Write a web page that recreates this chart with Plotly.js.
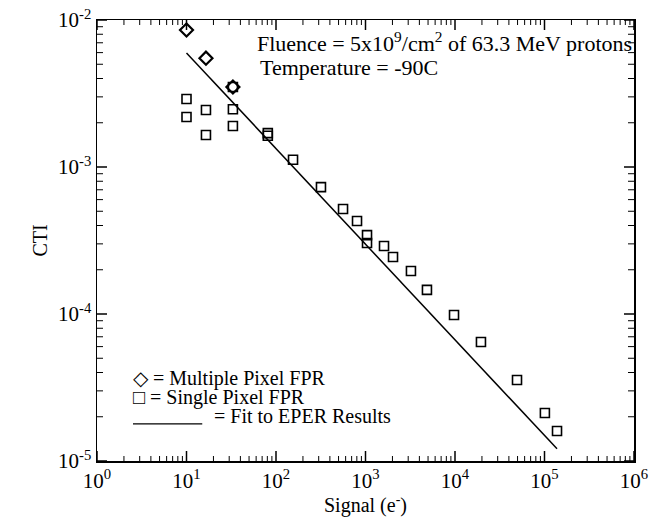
<!DOCTYPE html>
<html>
<head>
<meta charset="utf-8">
<script src="https://cdn.plot.ly/plotly-3.0.1.min.js"></script>
<style>html,body{margin:0;padding:0;background:#fff}#plot{width:656px;height:517px}</style>
</head>
<body>
<div id="plot"></div>
<script>
// Multiple pixel FPR (diamonds)
var multiX = [10, 16.5, 33];
var multiY = [8.55e-3, 5.5e-3, 3.5e-3];
// Single pixel FPR (squares)
var singleX = [10, 10, 16.5, 16.5, 33, 33, 33, 81, 81, 155, 318, 561, 804, 1040, 1040, 1610, 2030, 3220, 4860, 9750, 19500, 49300, 101000, 138000];
var singleY = [2.9e-3, 2.19e-3, 2.44e-3, 1.65e-3, 3.5e-3, 2.47e-3, 1.9e-3, 1.7e-3, 1.63e-3, 1.12e-3, 7.3e-4, 5.18e-4, 4.29e-4, 3.44e-4, 3.04e-4, 2.9e-4, 2.44e-4, 1.96e-4, 1.46e-4, 9.85e-5, 6.45e-5, 3.56e-5, 2.12e-5, 1.6e-5];
// Fit to EPER results (line endpoints)
var fitX = [10, 138000];
var fitY = [5.97e-3, 1.21e-5];
// Tick labels
var xTickVals = [1, 10, 100, 1000, 10000, 100000, 1000000];
var xTickText = ['10<sup>0</sup>', '10<sup>1</sup>', '10<sup>2</sup>', '10<sup>3</sup>', '10<sup>4</sup>', '10<sup>5</sup>', '10<sup>6</sup>'];
var yTickVals = [1e-5, 1e-4, 1e-3, 1e-2];
var yTickText = ['10<sup>-5</sup>', '10<sup>-4</sup>', '10<sup>-3</sup>', '10<sup>-2</sup>'];

var font = 'Liberation Serif';
var xRange = [0, 6], yRange = [-5, -2];
var plotW = 537, plotH = 441;

// Tick marks (inside, on all four sides) built as line segments in axis units
function tickTrace(major, width) {
  var xs = [], ys = [];
  var xMin = Math.pow(10, xRange[0]), xMax = Math.pow(10, xRange[1]);
  var yMin = Math.pow(10, yRange[0]), yMax = Math.pow(10, yRange[1]);
  var pxX = (xRange[1] - xRange[0]) / plotW; // decades per pixel, x
  var pxY = (yRange[1] - yRange[0]) / plotH; // decades per pixel, y
  function xTick(v, len) {
    var f = Math.pow(10, len * pxY);
    xs.push(v, v, null, v, v, null);
    ys.push(yMin, yMin * f, null, yMax, yMax / f, null);
  }
  function yTick(v, len) {
    var f = Math.pow(10, len * pxX);
    xs.push(xMin, xMin * f, null, xMax, xMax / f, null);
    ys.push(v, v, null, v, v, null);
  }
  xTickVals.forEach(function (v, i) {
    if (major) xTick(v, 10);
    else if (i < xTickVals.length - 1) for (var m = 2; m <= 9; m++) xTick(m * v, 5);
  });
  yTickVals.forEach(function (v, i) {
    if (major) yTick(v, 10);
    else if (i < yTickVals.length - 1) for (var m = 2; m <= 9; m++) yTick(m * v, 6);
  });
  return {x: xs, y: ys, mode: 'lines', line: {color: '#000', width: width}, connectgaps: false,
          cliponaxis: false, showlegend: false, hoverinfo: 'skip'};
}

var traces = [
  tickTrace(true, 1.5),
  tickTrace(false, 1),
  {x: fitX, y: fitY, mode: 'lines', line: {color: '#000', width: 1.5}, showlegend: false},
  {x: singleX, y: singleY, mode: 'markers', marker: {symbol: 'square-open', size: 9, color: '#000', line: {width: 1.6, color: '#000'}}, showlegend: false},
  {x: multiX, y: multiY, mode: 'markers', marker: {symbol: 'diamond-open', size: 10, color: '#000', line: {width: 2.2, color: '#000'}}, showlegend: false}
];

function axis(extra) {
  return Object.assign({
    type: 'log', showgrid: false, zeroline: false, showline: true, linecolor: '#000', linewidth: 1.5,
    mirror: true, ticks: '', tickmode: 'array',
    tickfont: {family: font, size: 21, color: '#000'}
  }, extra);
}

var layout = {
  width: 656, height: 517,
  margin: {l: 97, r: 22, t: 20, b: 56},
  xaxis: axis({
    range: xRange, tickvals: xTickVals, ticktext: xTickText,
    title: {text: 'Signal (e<sup>-</sup>)', font: {family: font, size: 20, color: '#000'}}
  }),
  yaxis: axis({
    range: yRange, tickvals: yTickVals, ticktext: yTickText,
    title: {text: 'CTI', font: {family: font, size: 20, color: '#000'}}
  }),
  annotations: [
    {xref: 'paper', yref: 'paper', x: 1, y: 0.950, xanchor: 'right', yanchor: 'middle', showarrow: false,
     text: 'Fluence = 5x10<sup>9</sup>/cm<sup>2</sup> of 63.3 MeV protons', font: {family: font, size: 22, color: '#000'}},
    {xref: 'paper', yref: 'paper', x: 0.299, y: 0.893, xanchor: 'left', yanchor: 'middle', showarrow: false,
     text: 'Temperature = -90C', font: {family: font, size: 22, color: '#000'}},
    {xref: 'paper', yref: 'paper', x: 0.063, y: 0.186, xanchor: 'left', yanchor: 'middle', showarrow: false,
     text: '\u25C7 = Multiple Pixel FPR', font: {family: font, size: 20, color: '#000'}},
    {xref: 'paper', yref: 'paper', x: 0.063, y: 0.144, xanchor: 'left', yanchor: 'middle', showarrow: false,
     text: '\u25A1 = Single Pixel FPR', font: {family: font, size: 20, color: '#000'}},
    {xref: 'paper', yref: 'paper', x: 0.214, y: 0.102, xanchor: 'left', yanchor: 'middle', showarrow: false,
     text: '= Fit to EPER Results', font: {family: font, size: 20, color: '#000'}}
  ],
  shapes: [
    {type: 'line', xref: 'paper', yref: 'paper', x0: 0.067, x1: 0.196, y0: 0.084, y1: 0.084, line: {color: '#000', width: 1.2}}
  ]
};

Plotly.newPlot('plot', traces, layout, {displayModeBar: false, staticPlot: true});
</script>
</body>
</html>
